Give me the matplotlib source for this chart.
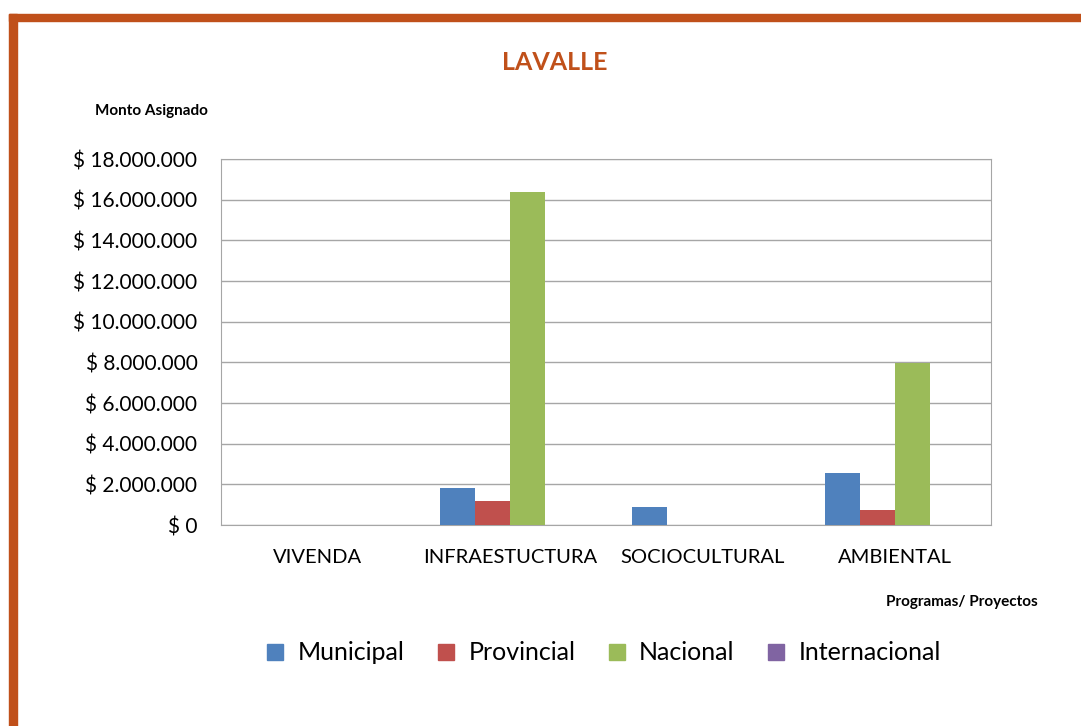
import matplotlib.pyplot as plt
from matplotlib.patches import Rectangle
from matplotlib.lines import Line2D
import numpy as np

categories = ['VIVENDA', 'INFRAESTUCTURA', 'SOCIOCULTURAL', 'AMBIENTAL']
series = ['Municipal', 'Provincial', 'Nacional', 'Internacional']
municipal = [0, 1800000, 900000, 2550000]
provincial = [0, 1180000, 0, 730000]
nacional = [0, 16380000, 0, 7980000]
internacional = [0, 0, 0, 0]
yticks = [0, 2000000, 4000000, 6000000, 8000000, 10000000, 12000000, 14000000, 16000000, 18000000]

colors = ['#4F81BD', '#C0504D', '#9BBB59', '#8064A2']
accent = '#C0501A'

plt.rcParams['font.family'] = ['Lato', 'DejaVu Sans']

fig = plt.figure(figsize=(10.81, 7.26), dpi=100)
W, H = 1081, 726

# orange frame on left and top
fig.patches.append(Rectangle((9 / W, 0), 8 / W, 1 - 14 / H, transform=fig.transFigure,
                             color=accent, zorder=0))
fig.patches.append(Rectangle((9 / W, 1 - 21 / H), 1 - 9 / W, 7 / H, transform=fig.transFigure,
                             color=accent, zorder=0))

ax = fig.add_axes([221 / W, 1 - 525 / H, 770 / W, 366 / H])

x = np.arange(len(categories))
bw = 0.182
for i, (name, vals) in enumerate(zip(series, [municipal, provincial, nacional, internacional])):
    ax.bar(x + (i - 1.5) * bw, vals, width=bw, color=colors[i], zorder=3)

ax.set_xlim(-0.5, 3.5)
ax.set_ylim(0, 18000000)
ax.set_yticks(yticks)
ax.set_yticklabels(['$ ' + f'{v:,}'.replace(',', '.') for v in yticks], fontsize=15)
ax.set_xticks(x)
ax.set_xticklabels(categories, fontsize=14.5)
ax.tick_params(axis='x', length=0, pad=17)
ax.tick_params(axis='y', length=0, pad=17)
ax.grid(axis='y', color='#A6A6A6', linewidth=1, zorder=0)
for s in ax.spines.values():
    s.set_color('#A6A6A6')

fig.text(555 / W, 1 - 62 / H, 'LAVALLE', ha='center', va='center', fontsize=18,
         fontweight='bold', color=accent)
fig.text(95 / W, 1 - 111 / H, 'Monto Asignado', ha='left', va='center', fontsize=11,
         fontweight='bold')
fig.text(1038 / W, 1 - 602 / H, 'Programas/ Proyectos', ha='right', va='center', fontsize=11,
         fontweight='bold')

handles = [Line2D([], [], marker='s', linestyle='', markersize=11, color=c) for c in colors]
fig.legend(handles, series, loc='center', bbox_to_anchor=(603 / W, 1 - 653 / H), ncol=4,
           frameon=False, fontsize=18, handlelength=0.8, handletextpad=0.5, columnspacing=1.25)

fig.savefig('out.png', dpi=100)
